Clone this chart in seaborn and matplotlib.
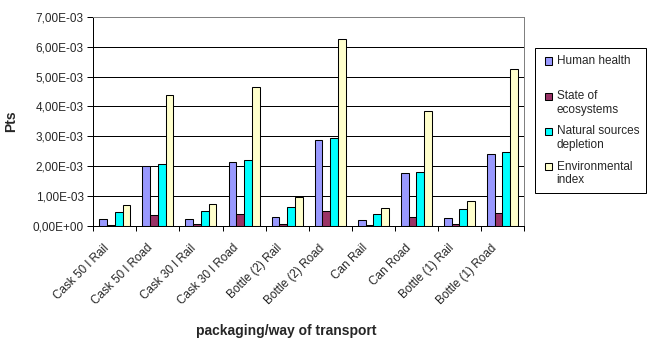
import matplotlib
matplotlib.use("Agg")
import matplotlib.pyplot as plt
from matplotlib.patches import Rectangle
from matplotlib.legend_handler import HandlerPatch
from matplotlib.ticker import FuncFormatter, FixedLocator, NullFormatter
import numpy as np
import pandas as pd
import seaborn as sns

# ---- data -------------------------------------------------------------
categories = [
    "Cask 50 l Rail", "Cask 50 l Road", "Cask 30 l Rail", "Cask 30 l Road",
    "Bottle (2) Rail", "Bottle (2) Road", "Can Rail", "Can Road",
    "Bottle (1) Rail", "Bottle (1) Road",
]
series_names = [
    "Human health", "State of ecosystems",
    "Natural sources depletion", "Environmental index",
]
legend_labels = [
    "Human health\n", "State of\necosystems",
    "Natural sources\ndepletion", "Environmental\nindex",
]
human_health = [0.21e-3, 2.00e-3, 0.23e-3, 2.12e-3, 0.30e-3,
                2.86e-3, 0.18e-3, 1.76e-3, 0.26e-3, 2.41e-3]
state_of_ecosystems = [0.03e-3, 0.34e-3, 0.04e-3, 0.37e-3, 0.06e-3,
                       0.48e-3, 0.03e-3, 0.30e-3, 0.04e-3, 0.41e-3]
natural_sources_depletion = [0.44e-3, 2.05e-3, 0.48e-3, 2.19e-3, 0.61e-3,
                             2.95e-3, 0.37e-3, 1.80e-3, 0.54e-3, 2.46e-3]
environmental_index = [0.68e-3, 4.38e-3, 0.72e-3, 4.64e-3, 0.97e-3,
                       6.26e-3, 0.59e-3, 3.83e-3, 0.81e-3, 5.24e-3]
y_ticks = [0.0, 1e-3, 2e-3, 3e-3, 4e-3, 5e-3, 6e-3, 7e-3]

colors = ["#9999FF", "#993366", "#00FFFF", "#FFFFCC"]

# ---- long-form table --------------------------------------------------
frames = []
for name, vals in zip(series_names, [human_health, state_of_ecosystems,
                                     natural_sources_depletion,
                                     environmental_index]):
    frames.append(pd.DataFrame({"transport": categories,
                                "indicator": name,
                                "value": vals}))
df = pd.concat(frames, ignore_index=True)

# ---- style ------------------------------------------------------------
sns.set_style("white")
plt.rcParams["font.family"] = ["Liberation Sans", "DejaVu Sans"]
plt.rcParams["font.size"] = 8.5

fig = plt.figure(figsize=(6.48, 3.40), dpi=100)
ax = fig.add_axes([93.3 / 648, 1 - 225.5 / 340,
                   (524 - 93.3) / 648, (225.5 - 17) / 340])

sns.barplot(data=df, x="transport", y="value", hue="indicator",
            order=categories, hue_order=series_names,
            palette=colors, width=0.72, gap=0, errorbar=None,
            edgecolor="black", linewidth=0.75, saturation=1,
            ax=ax, legend=True)

# ---- axes -------------------------------------------------------------
ax.set_xlim(-0.5, len(categories) - 0.5)
ax.set_ylim(y_ticks[0], y_ticks[-1])
ax.set_yticks(y_ticks)
ax.yaxis.set_major_formatter(
    FuncFormatter(lambda v, _: f"{v:.2E}".replace(".", ",")))
ax.set_axisbelow(True)
ax.yaxis.grid(True, color="black", linewidth=0.72)
ax.xaxis.grid(False)

# tick marks sit on the group boundaries, labels slightly left of centre
ax.xaxis.set_major_locator(FixedLocator(np.arange(-0.5, len(categories), 1.0)))
ax.xaxis.set_major_formatter(NullFormatter())
ax.xaxis.set_minor_locator(FixedLocator(np.arange(len(categories)) - 0.17))
ax.set_xticklabels(categories, minor=True)
ax.tick_params(axis="x", which="major", direction="out", length=3.6,
               width=0.72, color="black", bottom=True)
ax.tick_params(axis="x", which="minor", length=0, pad=15, labelsize=8.5,
               bottom=True)
for lab in ax.get_xticklabels(minor=True):
    lab.set_rotation(45)
    lab.set_ha("right")
    lab.set_va("center")
    lab.set_rotation_mode("anchor")
ax.tick_params(axis="y", direction="out", length=4.5, width=0.72,
               color="black", pad=2.5, labelsize=8.5, left=True)

for side in ("left", "bottom"):
    ax.spines[side].set_color("black")
    ax.spines[side].set_linewidth(0.72)
for side in ("top", "right"):
    ax.spines[side].set_color("#808080")
    ax.spines[side].set_linewidth(0.72)
    ax.spines[side].set_visible(True)

ax.set_ylabel("Pts", fontsize=10, fontweight="bold")
ax.yaxis.set_label_coords(-0.175, 0.5)
ax.set_xlabel("packaging/way of transport", fontsize=10, fontweight="bold",
              va="center")
ax.xaxis.set_label_coords(0.447, -0.506)


# ---- legend -----------------------------------------------------------
class FirstLineSquare(HandlerPatch):
    """Square swatch aligned with the first line of a two-line label."""

    def create_artists(self, legend, orig_handle, xdescent, ydescent,
                       width, height, fontsize, trans):
        side = 0.62 * fontsize
        x0 = -xdescent + width - side
        y0 = -ydescent + height / 2 - side / 2 + 0.6 * fontsize
        p = Rectangle((x0, y0), side, side,
                      facecolor=orig_handle.get_facecolor(),
                      edgecolor="black", linewidth=0.75, transform=trans)
        return [p]


handles, _ = ax.get_legend_handles_labels()
ax.get_legend().remove()
leg = fig.legend(handles, legend_labels, loc="upper left",
                 bbox_to_anchor=(535 / 648, 1 - 48.3 / 340),
                 bbox_transform=fig.transFigure,
                 frameon=True, fancybox=False, shadow=False,
                 borderpad=0.55, handlelength=0.88, handleheight=0.7,
                 handletextpad=0.4, labelspacing=0.8, borderaxespad=0,
                 fontsize=8.5,
                 handler_map={Rectangle: FirstLineSquare()})
leg.get_frame().set_edgecolor("black")
leg.get_frame().set_linewidth(0.72)
leg.get_frame().set_facecolor("white")
leg.get_frame().set_alpha(1)

fig.savefig("out.png", dpi=100, facecolor="white")
